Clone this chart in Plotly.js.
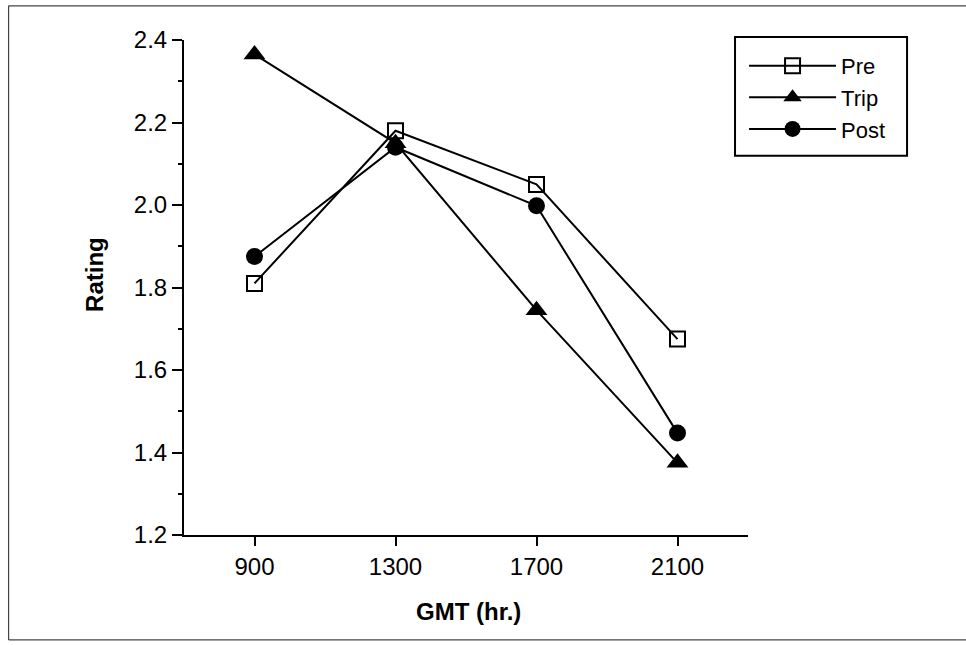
<!DOCTYPE html>
<html>
<head>
<meta charset="utf-8">
<script src="https://cdn.plot.ly/plotly-3.0.1.min.js"></script>
<style>html,body{margin:0;padding:0;background:#fff;}#chart{width:966px;height:645px;}</style>
</head>
<body>
<div id="chart"></div>
<script>
var hours = [900, 1300, 1700, 2100];
var hourLabels = ['900', '1300', '1700', '2100'];
var preValues = [1.81, 2.18, 2.05, 1.675];
var tripValues = [2.365, 2.15, 1.745, 1.375];
var postValues = [1.875, 2.14, 1.998, 1.447];
var yTicks = [1.2, 1.4, 1.6, 1.8, 2.0, 2.2, 2.4];
var yTickLabels = ['1.2', '1.4', '1.6', '1.8', '2.0', '2.2', '2.4'];

var FONT = '"Liberation Sans", Arial, Helvetica, sans-serif';
var lineStyle = {color: '#000', width: 2};

var traces = [
  {x: hours, y: preValues, name: 'Pre', mode: 'lines+markers', line: lineStyle,
   marker: {symbol: 'square-open', size: 15, color: '#000', line: {color: '#000', width: 2}}},
  {x: hours, y: tripValues, name: 'Trip', mode: 'lines+markers', line: lineStyle,
   marker: {symbol: 'triangle-up', size: 19, color: '#000', line: {width: 0}}},
  {x: hours, y: postValues, name: 'Post', mode: 'lines+markers', line: lineStyle,
   marker: {symbol: 'circle', size: 17, color: '#000', line: {width: 0}}}
];

var layout = {
  width: 966, height: 645,
  margin: {l: 184, r: 218, t: 40, b: 110, pad: 0},
  paper_bgcolor: '#fff', plot_bgcolor: '#fff',
  font: {family: FONT, size: 22, color: '#000'},
  showlegend: true,
  legend: {
    x: 0.993, y: 0.99, xanchor: 'left', yanchor: 'top',
    borderwidth: 0, bgcolor: 'rgba(0,0,0,0)',
    font: {family: FONT, size: 22, color: '#000'},
    itemwidth: 87, tracegroupgap: 0
  },
  xaxis: {
    range: [700, 2300], tickvals: hours, ticktext: hourLabels,
    showgrid: false, zeroline: false, showline: true, linecolor: '#000', linewidth: 2,
    ticks: 'outside', ticklen: 9, tickwidth: 2, tickcolor: '#000',
    tickfont: {family: FONT, size: 24, color: '#000'}
  },
  yaxis: {
    range: [1.2, 2.4], tickvals: yTicks, ticktext: yTickLabels,
    showgrid: false, zeroline: false, showline: true, linecolor: '#000', linewidth: 2,
    ticks: 'outside', ticklen: 10, tickwidth: 2, tickcolor: '#000',
    tickfont: {family: FONT, size: 24, color: '#000'},
    minor: {dtick: 0.1, tick0: 1.2, ticks: 'outside', ticklen: 4, tickwidth: 2, tickcolor: '#000', showgrid: false}
  },
  annotations: [
    {text: '<b>Rating</b>', xref: 'paper', yref: 'paper', x: -0.160, y: 0.527,
     xanchor: 'center', yanchor: 'middle', textangle: -90, showarrow: false,
     font: {family: FONT, size: 24, color: '#000'}},
    {text: '<b>GMT (hr.)</b>', xref: 'paper', yref: 'paper', x: 0.505, y: -0.154,
     xanchor: 'center', yanchor: 'middle', showarrow: false,
     font: {family: FONT, size: 24, color: '#000'}}
  ],
  shapes: [
    {type: 'rect', xref: 'paper', yref: 'paper', x0: 0.977, x1: 1.282, y0: 1.006, y1: 0.766,
     line: {color: '#000', width: 2}, fillcolor: 'rgba(0,0,0,0)'},
    {type: 'line', xref: 'paper', yref: 'paper', x0: -0.311, x1: 1.40, y0: 1.069, y1: 1.069,
     line: {color: '#444', width: 1.2}},
    {type: 'line', xref: 'paper', yref: 'paper', x0: -0.311, x1: -0.311, y0: 1.069, y1: -0.212,
     line: {color: '#444', width: 1.2}},
    {type: 'line', xref: 'paper', yref: 'paper', x0: -0.311, x1: 1.40, y0: -0.212, y1: -0.212,
     line: {color: '#444', width: 1.2}}
  ]
};

Plotly.newPlot('chart', traces, layout, {displayModeBar: false, staticPlot: true});
</script>
</body>
</html>
